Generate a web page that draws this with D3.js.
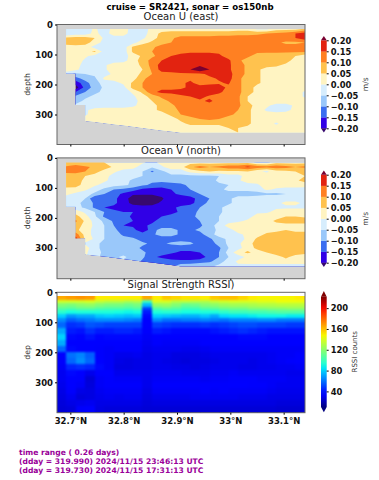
<!DOCTYPE html>
<html><head><meta charset="utf-8">
<script src="https://cdn.jsdelivr.net/npm/d3@7/dist/d3.min.js"></script>
<style>html,body{margin:0;padding:0;background:#fff}svg{display:block}text{font-family:"DejaVu Sans",sans-serif}</style>
</head><body><svg id="c" width="379" height="480"></svg>
<script>
// ---------- data ----------
const lats=[32.692,32.710,32.728,32.746,32.764,32.782,32.800,32.818,32.835,32.853,32.871,32.889,32.907,32.925,32.943,32.961,32.979,32.997,33.015,33.033,33.050,33.068,33.086,33.104,33.122,33.140];
const depths=[15,30,45,60,75,90,105,120,135,150,165,180,195,210,225,240,255,270,285,300,315,330,345,360];
const bottomDepths=[163,268,322,325,329,333,337,341,345,349,353,357,361,361,361,361,361,361,361,361,361,361,361,361,361,361];
const levels=[-20,-15,-10,-5,0,5,10,15,20]; // cm/s
const levelColors=["#3000e6","#3a6df0","#9ac8fa","#d6edfd","#fff4c2","#ffc24e","#ff8022","#e22310","#7a0030"];
const belowColor="#37096e";
const oceanU=[
[-3,-3,-3,1,-3,2,2,-2,-3,2,3,3,3,3,3,3,3,3,3,3,-1,-1,3,3,3,6],
[-5,-3,-3,2,-3,3,3,-4,-3,3,6,7,7,7,7,7,7,7,8,8,9,10,11,12,15,18],
[6,7,7,5,-1,-3,-3,-3,-1,3,7,9,12,12,12,12,13,13,13,13,13,13,13,13,15,18],
[7,8,7,3,-2,-3,-4,-2,3,6,8,10,12,12,12,12,12,12,12,10,12,12,11,9,9,10],
[3,3,3,-2,-3,-3,-3,6,8,9,12,12,13,13,13,13,13,13,13,13,12,12,12,12,12,12],
[3,3,3,6,-2,-3,-3,6,8,10,13,13,13,14,14,14,14,13,13,12,11,11,11,11,11,11],
[3,3,1,-2,-3,-2,-2,2,6,9,12,15,17,18,18,18,16,13,12,11,8,7,7,6,5,2],
[3,3,-1,-3,-3,-3,-2,3,7,12,15,18,18,18,18,18,18,16,11,8,7,7,7,7,3,2],
[3,2,-2,-3,-1,3,3,3,6,12,17,18,18,18,19,18,18,16,12,9,7,7,6,4,3,2],
[3,1,-2,-3,-1,3,3,3,5,11,17,18,18,20,24,20,18,16,12,9,6,3,3,3,3,3],
[-3,-6,-5,-4,-2,1,3,3,6,10,13,13,14,14,14,16,18,17,12,9,6,3,3,3,3,3],
[-6,-12,-8,-6,1,2,3,3,9,12,13,13,14,14,13,14,15.5,17,11,8,6,3,3,3,3,3],
[-10,-18,-12,-7,-3,-2,1,6,10,12,13,13,14,16,13,14,14.5,15.5,11,8,6,3,3,3,3,3],
[-10,-23,-13,-8,-4,-3,-2,7,10,13,14,14,14,16,17,17,17,14,11,8,3,3,3,3,3,3],
[-10,-15,-10,-6,-4,-3,-3,1,6,14,16,16,17,17,18,18,16,13,11,8,3,3,3,3,3,-1],
[-6,-9,-6,-4,-4,-3,-3,-1,3,7,11,13,14,15,17,14,13,13,11,5,3,3,3,3,3,-1],
[-6,-7,-4,-3,-3,-3,-3,-2,2,5,8,11,13,13,14,16,13,13,11,5,3,3,3,3,3,3],
[-4,-4,-3,-3,-3,-3,-3,-1,2,4,6,9,12,13,13,13,13,12,11,7,3,1,-2,-2,1,3],
[-3,-3,-1,2,3,3,3,3,3,4,6,8,11,13,13,13,13,12,10,6,3,-1,-3,-2,2,3],
[3,3,-1,3,3,3,3,5,3,3,3,6,10,12,12,12,12,11,9,6,3,3,3,3,3,3],
[3,3,3,3,3,3,3,5,3,3,3,3,6,8,10,11,10,8,7,6,3,3,3,3,3,3],
[3,3,3,6,3,3,3,3,3,3,3,3,4,6,6,6,6,6,6,6,3,3,-1,3,3,3],
[3,3,3,3,3,3,3,5,3,3,3,3,3,3,3,3,3,5,5,4,3,3,3,3,3,3],
[3,3,3,3,3,3,3,3,3,3,3,3,3,3,3,3,3,3,5,3,3,3,3,3,3,3]];
const oceanV=[
[5,6,5,5,5,3,3,3,1,-2,2,3,3,3,3,3,3,3,3,3,-1,-1,3,3,3,3],
[11,13,11,9,8,4,3,2,-3,-4,-1,3,3,9,12,10,11,13,13,16,13,12,13,12,10,11],
[12,13,10,7,3,1,-2,-3,-5,-11,-6,-3,-3,2,4,5,4,4,4,5,1,-1,3,4,5,6],
[6,6,5,3,2,-2,-3,-3,-5,-6,-6,-6,-6,-6,-6,-6,-5,-2,-2,3,3,3,3,3,3,5],
[8,7,4,5,1,-2,-3,-6,-8,-9,-9,-8,-8,-8,-8,-7,-4,-3,-1,3,3,3,3,3,4,7],
[8,7,3,1,-2,-3,-4,-6,-9,-11,-12,-12,-11,-9,-8,-7,-6,-5,-3,-2,-1,3,3,3,3,2],
[3,3,1,-3,-6,-10,-11,-13,-16,-17,-17,-15,-12,-10,-8,-7,-6,-4,-4,-4,-3,1,-1,-2,-2,-2],
[1,-1,-3,-6,-10,-13,-16,-19,-19,-19,-18,-16,-14,-12,-10,-8,-7,-7,-7,-7,-7,-6,-6,-5,-3,-2],
[-2,-3,-5,-15,-12,-14,-17,-23,-24,-24,-21,-16,-18,-17,-13,-10,-7,-6,-3,-3,-2,-2,-2,-2,-2,-2],
[-3,-4,-6,-11,-13,-14,-17,-22,-23,-22,-19,-18,-17,-17,-12,-9,-7,-6,-3,-3,-3,-2,-1,1,1,-1],
[-3,-3,-6,-11,-15,-16,-16,-17,-18,-18,-17,-16,-14,-12,-10,-7,-6,-3,-2,-2,-2,-2,-1,-1,-1,-1],
[-1,3,-1,-5,-10,-14,-15,-15,-16,-18,-18,-17,-14,-12,-9,-7,-6,-3,-3,-3,-1,-1,2,3,3,3],
[1,7,2,-4,-11,-12,-13,-16,-17,-17,-15,-13,-12,-11,-9,-7,-5,-3,-2,-2,2,3,3,5,5,4],
[1,11,4,-2,-6,-11,-13,-15,-17,-16,-13,-12,-12,-11,-10,-8,-5,-2,-1,1,3,3,6,8,8,8],
[1,8,3,-1,-5,-10,-15,-16,-16,-14,-13,-13,-12,-11,-11,-7,-3,2,3,3,3,3,3,3,3,3],
[1,6,3,-2,-5,-9,-12,-13,-19,-12,-8,-8,-11,-11,-9,-7,-4,-2,2,3,3,3,3,5,3,3],
[1,13,3,-2,-5,-7,-11,-13,-12,-11,-8,-8,-11,-12,-12,-7,-3,-2,-1,1,3,6,8,8,8,8],
[1,18,4,-1,-5,-7,-8,-9,-12,-13,-13,-13,-12,-12,-12,-11,-7,-4,-2,1,6,8,8,8,8,8],
[1,3,-1,-4,-6,-7,-8,-8,-9,-11,-11,-9,-8,-9,-12,-13,-8,-4,-1,3,7,8,9,9,9,9],
[1,3,3,-4,-6,-7,-7,-8,-11,-12,-13,-13,-13,-13,-14,-14,-11,-5,-2,3,6,8,8,9,9,9],
[1,3,1,-3,-6,-7,-7,-6,-9,-12,-13,-14,-16,-16,-15,-14,-10,-3,3,6,3,5,8,9,8,6],
[1,3,1,-4,-6,-6,-4,-7,-9,-14,-16,-18,-19,-19,-18,-13,-10,-5,-2,1,2,3,3,6,3,3],
[1,3,1,-4,-6,-6,-6,-7,-11,-12,-12,-13,-13,-13,-12,-11,-7,-3,1,3,3,3,3,3,3,3],
[1,3,1,-5,-5,-5,-5,-6,-7,-8,-10,-11,-8,-7,-6,-6,-4,-2,-1,-2,-2,-2,-2,-2,-2,-2]];
const rssiLatEdges=[32.675,32.692,32.710,32.728,32.746,32.764,32.782,32.800,32.818,32.835,32.853,32.871,32.889,32.907,32.925,32.943,32.961,32.979,32.997,33.015,33.033,33.050,33.068,33.086,33.104,33.122,33.140];
const rssiDepthEdges=[12,24,36,48,60,72,84,100,120,140,160,180,200,220,240,260,280,300,320,340,360,380,400];
const rssi=[
[165,168,170,168,150,150,150,150,150,165,150,158,155,152,152,150,158,160,160,155,150,148,148,148,148,150],
[138,138,138,140,135,132,132,128,130,100,140,140,132,132,130,130,135,138,140,140,140,142,142,145,145,145],
[118,116,120,122,118,115,115,112,115,75,122,124,118,110,112,118,120,124,126,126,128,130,130,132,132,132],
[108,106,110,110,106,104,104,102,105,50,106,110,106,100,100,106,108,112,114,114,118,118,120,120,122,122],
[95,90,92,92,92,92,90,88,90,42,92,94,94,90,90,92,92,96,100,100,102,102,104,106,106,106],
[80,68,72,72,78,80,78,76,78,38,80,78,76,74,74,78,72,82,84,84,86,88,88,88,86,86],
[66,56,60,62,66,66,66,64,62,36,66,60,60,62,62,64,62,60,64,64,64,66,66,62,62,62],
[58,46,48,54,52,50,50,50,50,34,50,48,46,46,46,48,46,48,50,52,52,50,50,50,48,48],
[72,42,40,46,42,42,44,44,42,33,42,40,38,38,38,38,40,42,44,46,44,42,40,40,40,40],
[80,38,37,40,37,38,38,38,38,32,34,34,34,34,34,36,36,36,36,38,38,38,36,36,36,36],
[72,36,34,34,34,34,36,36,35,31,33,32,32,32,32,34,34,34,34,34,34,34,34,34,34,34],
[58,38,36,36,33,32,33,33,33,30,31,31,31,30,30,31,32,32,32,32,32,32,32,32,32,32],
[36,60,64,56,33,32,30,30,31,29,30,30,28,28,28,29,30,30,30,30,30,30,31,32,32,34],
[33,58,66,58,36,32,29,28,29,29,30,29,28,27,28,28,29,30,30,30,29,30,31,32,33,36],
[32,44,46,44,38,32,28,28,29,29,30,30,29,29,28,29,30,30,30,29,29,30,30,31,31,32],
[31,38,36,30,34,34,30,30,30,30,31,31,31,30,30,30,31,31,32,31,31,31,31,31,30,30],
[31,36,33,26,32,33,32,32,32,30,32,32,32,32,32,31,32,32,33,33,33,32,32,32,31,31],
[30,34,32,27,32,33,33,33,33,30,33,33,33,33,33,33,33,33,34,34,33,33,32,31,31,31],
[29,33,29,28,31,32,32,32,32,29,32,32,32,32,32,33,32,33,32,32,32,32,31,30,30,30],
[28,31,27,28,30,31,30,31,31,28,30,30,30,30,31,31,31,31,31,30,30,30,29,29,29,29],
[27,29,30,31,29,29,29,29,29,27,28,28,28,28,28,28,28,28,28,28,28,28,28,27,27,27],
[26,27,33,34,28,27,27,27,27,26,26,26,26,26,26,26,26,26,26,26,26,26,26,25,25,25]];
const depthTicks=[0,100,200,300];
const latTicks=[32.7,32.8,32.9,33.0,33.1];
const velTicks=[-20,-15,-10,-5,0,5,10,15,20];
const rssiTicks=[40,80,120,160,200];
const rssiRange=[10,222];
const infoLines=["time range ( 0.26 days)","(dday = 319.990) 2024/11/15 23:46:13 UTC","(dday = 319.730) 2024/11/15 17:31:13 UTC"];

// ---------- layout ----------
const svg=d3.select("#c");
const X0=57,X1=305,CB0=321,CB1=326.7;
const panels=[
 {top:24.5,bot:144.5,cbTop:40.3,cbBot:128.3,tipTop:36,tipBot:132.6,title:"Ocean U (east)",ylab:"depth",data:oceanU,unit:"m/s"},
 {top:157.9,bot:278.7,cbTop:174.7,cbBot:262.7,tipTop:170.4,tipBot:267,title:"Ocean V (north)",ylab:"depth",data:oceanV,unit:"m/s"},
 {top:292.3,bot:412.7,title:"Signal Strength RSSI)",ylab:"dep",rssi:true,unit:"RSSI counts"}];
const x=d3.scaleLinear([32.675,33.14],[X0,X1]);
const defs=svg.append("defs");
const TXT="#333";

svg.append("text").attr("x",190).attr("y",9.5).attr("text-anchor","middle").attr("font-weight","bold").attr("font-size",8.6).text("cruise = SR2421,  sonar = os150nb");

const jetR=d3.scaleLinear([0,.35,.66,.89,1],[0,0,1,1,.5]),
      jetG=d3.scaleLinear([0,.125,.375,.64,.91,1],[0,0,1,1,0,0]),
      jetB=d3.scaleLinear([0,.11,.34,.65,1],[.5,1,1,0,0]);
const rssiFrac=d3.scaleLinear(rssiRange,[0,1]).clamp(true);
const jet=v=>{const f=rssiFrac(v);return d3.rgb(jetR(f)*255,jetG(f)*255,jetB(f)*255).formatRgb();};

panels.forEach((p,pi)=>{
 const y=d3.scaleLinear([0,(p.bot-p.top)/0.3],[p.top,p.bot]);
 const g=svg.append("g");
 if(!p.rssi){
  g.append("rect").attr("x",X0).attr("y",p.top).attr("width",X1-X0).attr("height",p.bot-p.top).attr("fill","#d3d3d3");
  const n=lats.length,m=depths.length;
  const gx=d3.scaleLinear([0.5,n-0.5],[x(lats[0]),x(lats[n-1])]);
  const gy=d3.scaleLinear([0.5,m-0.5],[y(depths[0]),y(depths[m-1])]);
  const path=d3.geoPath(d3.geoTransform({point(a,b){this.stream.point(gx(a),gy(b));}}));
  // data footprint polygon
  const poly=[[x(lats[0]),y(depths[0])],[x(lats[n-1]),y(depths[0])]];
  for(let i=n-1;i>=0;i--){
    poly.push([x(lats[i]),y(bottomDepths[i])]);
    if(i>0&&i<=2) poly.push([x(lats[i]),y(bottomDepths[i-1])]);
  }
  const id="clip"+pi;
  defs.append("clipPath").attr("id",id).append("polygon").attr("points",poly.map(d=>d.join(",")).join(" "));
  const cg=g.append("g").attr("clip-path",`url(#${id})`);
  cg.append("rect").attr("x",X0).attr("y",p.top).attr("width",X1-X0).attr("height",p.bot-p.top).attr("fill",belowColor);
  const flat=p.data.flat();
  const cont=d3.contours().size([n,m]).thresholds(levels)(flat);
  cg.selectAll("path").data(cont).join("path").attr("d",path).attr("fill",(d,i)=>levelColors[i]);
 } else {
  defs.append("clipPath").attr("id","rssiClip").append("rect").attr("x",X0).attr("y",y(rssiDepthEdges[0])).attr("width",X1-X0).attr("height",p.bot-y(rssiDepthEdges[0]));
  const drawCells=(sel)=>{
   rssi.forEach((row,r)=>row.forEach((v,c)=>{
    sel.append("rect").attr("x",x(rssiLatEdges[c])).attr("y",y(rssiDepthEdges[r]))
     .attr("width",x(rssiLatEdges[c+1])-x(rssiLatEdges[c])+.6)
     .attr("height",y(rssiDepthEdges[r+1])-y(rssiDepthEdges[r])+.6).attr("fill",jet(v)).attr("shape-rendering","crispEdges");
   }));
  };
  const holder=g.append("g").attr("clip-path","url(#rssiClip)");
  drawCells(holder.append("g"));
  drawCells(holder.append("g").style("filter","blur(1px)"));
 }
 // frame
 g.append("rect").attr("x",X0).attr("y",p.top).attr("width",X1-X0).attr("height",p.bot-p.top).attr("fill","none").attr("stroke","#666").attr("stroke-width",1);
 // axes
 const ya=d3.axisLeft(y).tickValues(depthTicks).tickSize(2).tickPadding(2);
 const yg=svg.append("g").attr("transform",`translate(${X0},0)`).call(ya);
 yg.select(".domain").remove();
 yg.selectAll("text").attr("font-size",8.5).attr("font-weight","bold").attr("font-family","DejaVu Sans").attr("fill","#111");
 const xa=d3.axisBottom(x).tickValues(latTicks).tickSize(2).tickPadding(3).tickFormat(d=>(d===33?"33":d3.format(".1f")(d))+"°N");
 const xg=svg.append("g").attr("transform",`translate(0,${p.bot})`).call(xa);
 xg.select(".domain").remove();
 xg.selectAll("text").attr("font-size",8.5).attr("font-weight","bold").attr("font-family","DejaVu Sans").attr("fill","#111");
 if(!p.rssi) xg.selectAll("text").remove();
 // titles
 svg.append("text").attr("x",181).attr("y",p.top-4.2).attr("text-anchor","middle").attr("font-size",10).attr("fill","#222").text(p.title);
 svg.append("text").attr("transform",`translate(30,${(y(0)+y(400))/2}) rotate(-90)`).attr("text-anchor","middle").attr("font-size",7.8).attr("fill",TXT).text(p.ylab);

 // colorbars
 if(!p.rssi){
  const cy=d3.scaleLinear([-20,20],[p.cbBot,p.cbTop]);
  const cg=svg.append("g");
  d3.pairs(levels).forEach((d,i)=>{
    cg.append("rect").attr("x",CB0).attr("y",cy(d[1])).attr("width",CB1-CB0).attr("height",cy(d[0])-cy(d[1])+.2).attr("fill",levelColors[i]);
  });
  cg.append("polygon").attr("points",`${CB0},${p.cbTop} ${CB1},${p.cbTop} ${(CB0+CB1)/2},${p.tipTop}`).attr("fill",levelColors[8]);
  cg.append("polygon").attr("points",`${CB0},${p.cbBot} ${CB1},${p.cbBot} ${(CB0+CB1)/2},${p.tipBot}`).attr("fill",belowColor);
  const ca=d3.axisRight(cy).tickValues(velTicks).tickSize(2).tickPadding(2).tickFormat(d=>d3.format(".2f")(d/100).replace("-","−"));
  const cag=svg.append("g").attr("transform",`translate(${CB1},0)`).call(ca);
  cag.select(".domain").remove();
  cag.selectAll("text").attr("font-size",8.4).attr("font-weight","bold").attr("font-family","DejaVu Sans").attr("fill","#111");
  svg.append("text").attr("transform",`translate(368,${(p.cbTop+p.cbBot)/2}) rotate(-90)`).attr("text-anchor","middle").attr("font-size",7.6).attr("fill",TXT).text(p.unit);
 } else {
  const cTop=296.7,cBot=407;
  const cy=d3.scaleLinear(rssiRange,[cBot,cTop]);
  const gid="jetbar";
  const lg=defs.append("linearGradient").attr("id",gid).attr("x1",0).attr("x2",0).attr("y1",1).attr("y2",0);
  d3.range(0,1.001,.05).forEach(f=>lg.append("stop").attr("offset",f).attr("stop-color",jet(rssiFrac.invert(f))));
  svg.append("rect").attr("x",CB0).attr("y",cTop).attr("width",CB1-CB0).attr("height",cBot-cTop).attr("fill",`url(#${gid})`);
  svg.append("polygon").attr("points",`${CB0},${cTop} ${CB1},${cTop} ${(CB0+CB1)/2},291`).attr("fill","#7f0000");
  svg.append("polygon").attr("points",`${CB0},${cBot} ${CB1},${cBot} ${(CB0+CB1)/2},412.3`).attr("fill","#00007f");
  const ca=d3.axisRight(cy).tickValues(rssiTicks).tickSize(2).tickPadding(2);
  const cag=svg.append("g").attr("transform",`translate(${CB1},0)`).call(ca);
  cag.select(".domain").remove();
  cag.selectAll("text").attr("font-size",8.4).attr("font-weight","bold").attr("font-family","DejaVu Sans").attr("fill","#111");
  svg.append("text").attr("transform",`translate(357,${cy(120)+2}) rotate(-90)`).attr("text-anchor","middle").attr("font-size",7).attr("fill",TXT).text(p.unit);
 }
});
svg.append("g").selectAll("text").data(infoLines).join("text").attr("x",19).attr("y",(d,i)=>[455,464,473][i])
 .attr("font-size",7.6).attr("font-weight","bold").attr("fill","#990099").text(d=>d);
</script></body></html>
